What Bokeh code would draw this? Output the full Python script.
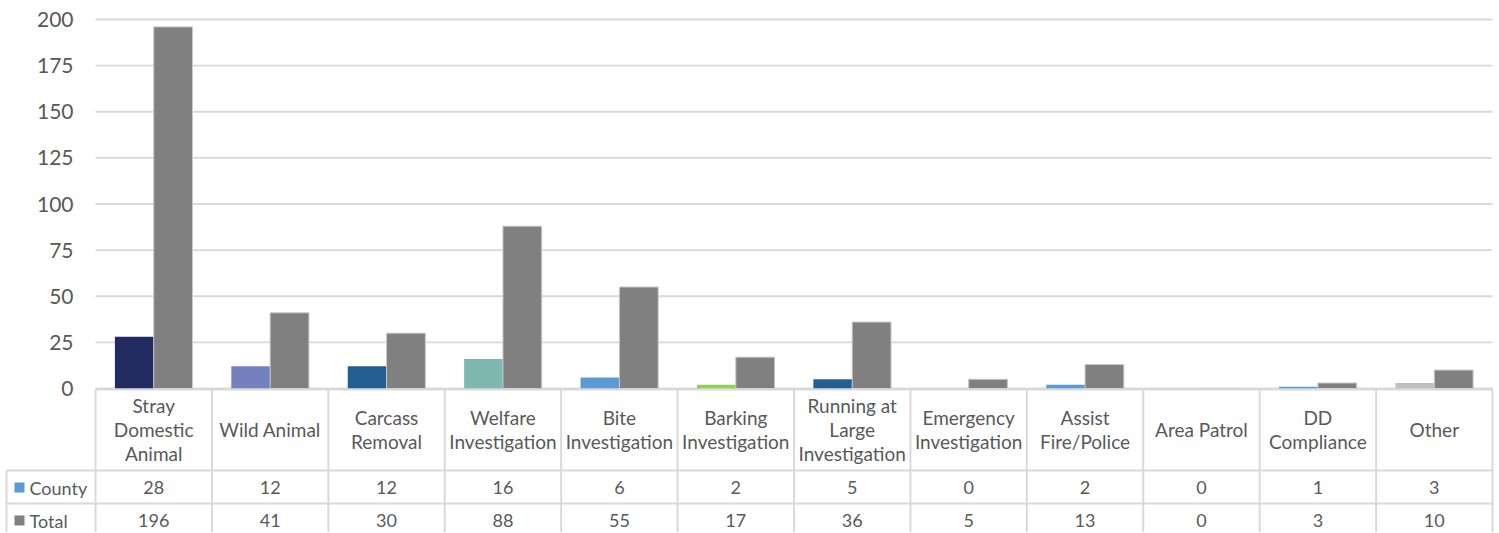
from bokeh.plotting import figure
from bokeh.models import ColumnDataSource, Range1d
from bokeh.transform import dodge
from bokeh.core.properties import value
from bokeh.embed import file_html
from bokeh.resources import INLINE

# ---- data ----
categories = ["Stray\nDomestic\nAnimal", "Wild Animal", "Carcass\nRemoval", "Welfare\nInvestigation",
              "Bite\nInvestigation", "Barking\nInvestigation", "Running at\nLarge\nInvestigation",
              "Emergency\nInvestigation", "Assist\nFire/Police", "Area Patrol", "DD\nCompliance", "Other"]
county = [28, 12, 12, 16, 6, 2, 5, 0, 2, 0, 1, 3]
total = [196, 41, 30, 88, 55, 17, 36, 5, 13, 0, 3, 10]
county_colors = ["#212B5F", "#7580BF", "#255E91", "#7FB8B0", "#5B9BD5", "#92D050",
                 "#255E91", "#5B9BD5", "#5B9BD5", "#5B9BD5", "#5B9BD5", "#BFBFBF"]
series_names = ["County", "Total"]
series_colors = ["#5B9BD5", "#808080"]
y_ticks = [0, 25, 50, 75, 100, 125, 150, 175, 200]

FONT = "Lato"
TXT = "#595959"
GRID = "#D9D9D9"

# ---- page geometry (pixels) ----
W, H = 1498, 532
PX_LEFT, PX_RIGHT = 95, 1492          # category area
PY_TOP, PY_ZERO = 19, 388             # y=200 and y=0
n = len(categories)
cat_w = (PX_RIGHT - PX_LEFT) / n
ypx = 200 / (PY_ZERO - PY_TOP)        # data units per pixel


def X(px):
    return (px - PX_LEFT) / cat_w


def Y(py):
    return (PY_ZERO - py) * ypx


p = figure(width=W, height=H, x_range=Range1d(X(0), X(W)), y_range=Range1d(Y(H), Y(0)),
           x_axis_location=None, y_axis_location=None,
           output_backend="svg", toolbar_location=None,
           min_border_left=0, min_border_right=0, min_border_top=0, min_border_bottom=0)
p.outline_line_color = None
p.xgrid.grid_line_color = None
p.ygrid.grid_line_color = None

xs = [i + 0.5 for i in range(n)]
src = ColumnDataSource(dict(x=xs, county=county, total=total, ccol=county_colors))

# value grid lines and tick labels
p.segment(x0=[0] * len(y_ticks), y0=y_ticks, x1=[n] * len(y_ticks), y1=y_ticks,
          line_color=GRID, line_width=1.8)
p.text(x=[X(73)] * len(y_ticks), y=y_ticks, text=[str(v) for v in y_ticks],
       text_align="right", text_baseline="middle", text_font=value(FONT),
       text_font_size="21px", text_color=TXT)

# bars
p.vbar(x=dodge("x", -1/6), top="county", width=1/3, source=src,
       fill_color="ccol", line_color=None)
p.vbar(x=dodge("x", 1/6), top="total", width=1/3, source=src,
       fill_color=series_colors[1], line_color="#C8C8C8", line_width=1)

# data table grid
tb_top, r1, r2 = Y(389), Y(470), Y(503)
hx = X(6)
p.segment(x0=[0, hx, hx], y0=[tb_top, r1, r2], x1=[n, n, n], y1=[tb_top, r1, r2],
          line_color=GRID, line_width=2)
p.segment(x0=list(range(n + 1)), y0=[tb_top] * (n + 1), x1=list(range(n + 1)), y1=[Y(H)] * (n + 1),
          line_color=GRID, line_width=2)
p.segment(x0=[hx], y0=[r1], x1=[hx], y1=[Y(H)], line_color=GRID, line_width=2)

# category labels
p.text(x=xs, y=[Y(429)] * n, text=categories, text_align="center", text_baseline="middle",
       text_font=value(FONT), text_font_size="19px", text_color=TXT, text_line_height=1.04)
# values
p.text(x=xs, y=[Y(487)] * n, text=[str(v) for v in county], text_align="center",
       text_baseline="middle", text_font=value(FONT), text_font_size="18px", text_color=TXT)
p.text(x=xs, y=[Y(520)] * n, text=[str(v) for v in total], text_align="center",
       text_baseline="middle", text_font=value(FONT), text_font_size="18px", text_color=TXT)
# legend keys and series names
p.rect(x=[X(19)] * 2, y=[Y(487), Y(520)], width=10, height=10,
       width_units="screen", height_units="screen", fill_color=series_colors, line_color=None)
p.text(x=[X(29)] * 2, y=[Y(487), Y(520)], text=series_names, text_align="left",
       text_baseline="middle", text_font=value(FONT), text_font_size="18px", text_color=TXT)

open("out.html", "w").write(file_html(p, INLINE))
